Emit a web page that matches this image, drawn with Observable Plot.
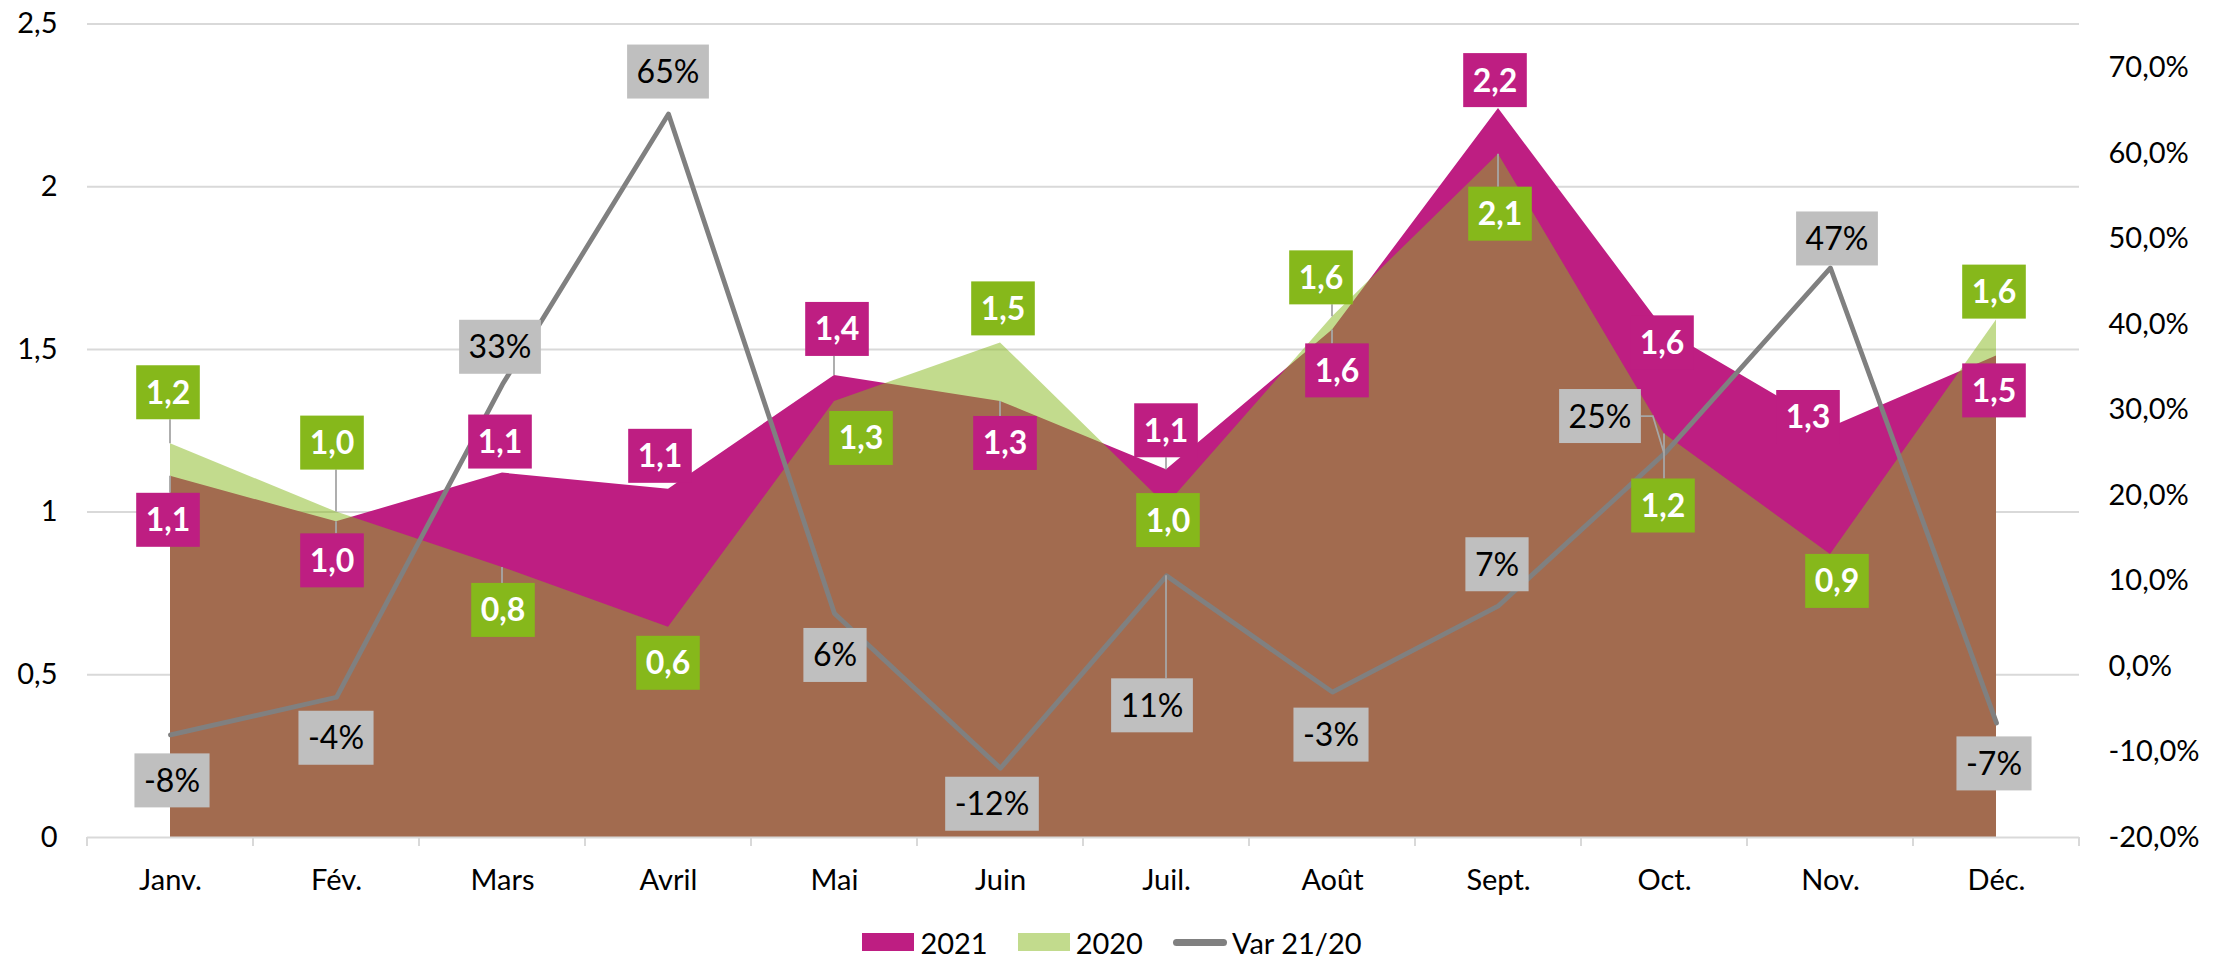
<!DOCTYPE html>
<html>
<head>
<meta charset="utf-8">
<script src="https://cdn.jsdelivr.net/npm/d3@7"></script>
<script src="https://cdn.jsdelivr.net/npm/@observablehq/plot@0.6"></script>
<style>
  html, body { margin: 0; padding: 0; background: #fff; }
  #chart { width: 2224px; }
  #legend { width: 2224px; height: 46px; box-sizing: border-box; padding-top: 18px;
            display: flex; justify-content: center; align-items: center;
            font-family: Lato, "Open Sans", sans-serif; font-size: 29px; color: #000; }
  .item { display: flex; align-items: center; margin: 0 15px; }
  .sw { width: 52px; height: 18px; margin-right: 6px; }
  .ln { width: 54px; height: 7px; border-radius: 4px; background: #808080; margin-right: 5px; }
</style>
</head>
<body>
<div id="chart"></div>
<div id="legend">
  <div class="item"><div class="sw" style="background:#BE1E82"></div><span>2021</span></div>
  <div class="item"><div class="sw" style="background:#C2DB8D"></div><span>2020</span></div>
  <div class="item"><div class="ln"></div><span>Var 21/20</span></div>
</div>
<script>
// ---------- data ----------
const months = ["Janv.", "Fév.", "Mars", "Avril", "Mai", "Juin", "Juil.", "Août", "Sept.", "Oct.", "Nov.", "Déc."];
const values2021 = [1.11, 0.97, 1.12, 1.07, 1.42, 1.34, 1.13, 1.56, 2.24, 1.56, 1.26, 1.48];
const values2020 = [1.21, 1.00, 0.83, 0.646, 1.34, 1.52, 1.02, 1.60, 2.10, 1.24, 0.87, 1.59];
const varPct = [-0.08, -0.036, 0.33, 0.646, 0.062, -0.119, 0.106, -0.03, 0.071, 0.249, 0.466, -0.066];
const leftTicks = [0, 0.5, 1, 1.5, 2, 2.5];
const rightTicks = [-0.2, -0.1, 0, 0.1, 0.2, 0.3, 0.4, 0.5, 0.6, 0.7];
const rightDomain = [-0.2, 0.7513];

// ---------- label placement (pixel offsets of the label box centre from its point) ----------
const off2021 = [[-2,44],[-4,39],[-2,-31],[-8,-33],[3,-46],[5,42],[0,-39],[5,41],[-3,-28],[-2,13],[-22,-10],[-2,35]];
const off2020 = [[-2,-51],[-4,-69],[1,43],[0,36],[27,37],[3,-34],[2,15],[-11,-39],[2,60],[-1,72],[7,27],[-2,-28]];
const offVar  = [[2,46],[0,41],[-2,-37],[0,-42],[1,42],[-8,36],[-14,130],[-1,43],[-1,-41],[-64,-37],[7,-29],[-2,41]];
const lead2021 = [1,1,0,0,1,1,1,1,0,0,0,0];
const lead2020 = [1,1,1,0,0,0,0,1,1,1,0,0];
const leadVar  = [0,0,0,0,0,0,1,0,0,2,0,0];

// ---------- styles ----------
const C2021 = "#BE1E82", C2020 = "#86B81B", CVAR = "#808080", CGRID = "#D9D9D9";
const W = 2224, H = 910, mL = 87, mR = 145, mT = 23.5, mB = 73;

const toLeft = v => (v - rightDomain[0]) / (rightDomain[1] - rightDomain[0]) * 2.5;
const fmtNum = v => String(v).replace(".", ",");
const fmt1 = v => v.toFixed(1).replace(".", ",");
const fmtPct = v => Math.round(v * 100) + "%";
const fmtAxisPct = v => (Math.round(v * 1000) / 10).toFixed(1).replace(".", ",") + "%";

const rows = months.map((m, i) => ({month: m, v2021: values2021[i], v2020: values2020[i], vr: varPct[i], vrY: toLeft(varPct[i])}));

const plot = Plot.plot({
  width: W, height: H,
  marginLeft: mL, marginRight: mR, marginTop: mT, marginBottom: mB,
  style: {fontFamily: "Lato, 'Open Sans', sans-serif", fontSize: "29px", color: "#000", background: "#fff", overflow: "visible"},
  x: {type: "point", domain: months, padding: 0.5, tickSize: 0, tickPadding: 32, label: null},
  y: {domain: [0, 2.5], axis: null},
  marks: [
    Plot.ruleY(leftTicks.filter(d => d > 0), {y: d => d, stroke: CGRID, strokeWidth: 2}),
    Plot.areaY(rows, {x: "month", y: "v2021", fill: C2021}),
    Plot.areaY(rows, {x: "month", y: "v2020", fill: C2020, fillOpacity: 0.5}),
    Plot.ruleY([0], {stroke: CGRID, strokeWidth: 2}),
    Plot.line(rows, {x: "month", y: "vrY", stroke: CVAR, strokeWidth: 4.8, strokeLinejoin: "round", strokeLinecap: "round"}),
    Plot.text(leftTicks, {y: d => d, text: d => fmtNum(d), frameAnchor: "left", textAnchor: "end", dx: -30, fill: "#000"}),
    Plot.text(rightTicks, {y: d => toLeft(d), text: d => fmtAxisPct(d), frameAnchor: "right", textAnchor: "start", dx: 29, fill: "#000"})
  ]
});
document.getElementById("chart").appendChild(plot);

// ---------- overlay: bottom tick marks, data labels and leader lines ----------
const svgEl = plot.tagName.toLowerCase() === "svg" ? plot : plot.querySelector("svg");
const svg = d3.select(svgEl);
const sx = plot.scale("x"), sy = plot.scale("y");
const X = (sx && sx.apply) ? (v => sx.apply(v)) :
  d3.scalePoint().domain(sx.domain).range(sx.range).padding(0.5);
const Y = (sy && sy.apply) ? (v => sy.apply(v)) :
  d3.scaleLinear().domain(sy.domain).range(sy.range);

const step = X(months[1]) - X(months[0]);
const y0 = Y(0);
const tickG = svg.append("g");
months.forEach((m, i) => {
  const xs = [X(m) - step / 2];
  if (i === months.length - 1) xs.push(X(m) + step / 2);
  xs.forEach(xp => tickG.append("line").attr("x1", xp).attr("x2", xp).attr("y1", y0).attr("y2", y0 + 9)
    .attr("stroke", CGRID).attr("stroke-width", 2));
});

const leadG = svg.append("g");
const labG = svg.append("g");

function addLabels(vals, yOf, offs, leads, textOf, boxFill, textFill, weight) {
  vals.forEach((v, i) => {
    const px = X(months[i]), py = Y(yOf(v));
    const cx = px + offs[i][0], cy = py + offs[i][1];
    const g = labG.append("g");
    const rect = g.append("rect");
    const t = g.append("text")
      .attr("x", cx).attr("y", cy + 11.5)
      .attr("text-anchor", "middle")
      .attr("font-family", "Lato, 'Open Sans', sans-serif")
      .attr("font-size", 32).attr("font-weight", weight)
      .attr("fill", textFill)
      .text(textOf(v));
    const w = t.node().getComputedTextLength() + 19, h = 54;
    const bx = cx - w / 2, by = cy - h / 2;
    rect.attr("x", bx).attr("y", by).attr("width", w).attr("height", h).attr("fill", boxFill);
    if (leads[i] === 1) {
      const qx = Math.max(bx, Math.min(px, bx + w));
      const qy = Math.max(by, Math.min(py, by + h));
      leadG.append("line").attr("x1", px).attr("y1", py).attr("x2", qx).attr("y2", qy)
        .attr("stroke", "#A6A6A6").attr("stroke-width", 1.8);
    } else if (leads[i] === 2) {
      const ex = bx + w, ey = cy;
      leadG.append("path")
        .attr("d", `M${ex},${ey}H${ex + 12}L${px},${py}`)
        .attr("fill", "none").attr("stroke", "#A6A6A6").attr("stroke-width", 1.8);
    }
  });
}

addLabels(values2021, v => v, off2021, lead2021, fmt1, C2021, "#fff", 700);
addLabels(values2020, v => v, off2020, lead2020, fmt1, C2020, "#fff", 700);
addLabels(varPct, v => toLeft(v), offVar, leadVar, fmtPct, "#BFBFBF", "#000", 400);
</script>
</body>
</html>
